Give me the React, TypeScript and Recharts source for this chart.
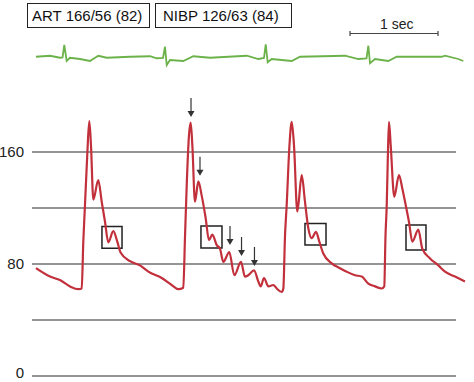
import { ComposedChart, Line, Scatter, XAxis, YAxis, ReferenceLine, ReferenceArea } from "recharts";

// arterial pressure trace: time (s) and mmHg
const artTime = [
  0.045, 0.205, 0.318, 0.432, 0.526, 0.565, 0.583, 0.602, 0.628, 0.651, 0.67, 0.697, 0.753, 0.792, 0.83, 0.867,
  0.924, 0.969, 1.008, 1.114, 1.227, 1.322, 1.474, 1.587, 1.663, 1.719, 1.739, 1.758, 1.784, 1.803, 1.822, 1.852,
  1.89, 1.928, 1.974, 2.011, 2.049, 2.099, 2.136, 2.174, 2.242, 2.299, 2.375, 2.42, 2.458, 2.523, 2.572, 2.599,
  2.636, 2.686, 2.742, 2.781, 2.838, 2.856, 2.875, 2.894, 2.926, 2.951, 2.977, 3.015, 3.065, 3.102, 3.14, 3.178,
  3.227, 3.265, 3.31, 3.406, 3.5, 3.576, 3.67, 3.747, 3.822, 3.898, 3.974, 4.003, 4.017, 4.031, 4.045, 4.057,
  4.076, 4.117, 4.17, 4.208, 4.247, 4.284, 4.322, 4.39, 4.435, 4.523, 4.617, 4.693, 4.807, 4.92,
];
const artPressure = [
  77, 71, 68.5, 64, 62, 62.5, 96, 122, 158, 182, 165, 126, 140, 124.5, 110, 95.5,
  103.5, 96, 88, 82, 79, 74.5, 70, 65, 62, 63, 100, 136, 172, 181, 165, 124.5,
  139, 129, 112.5, 97, 101, 93.5, 91, 81.5, 88.5, 72, 81.5, 71, 72, 75.5, 67.5, 64,
  70, 64, 65, 62.5, 60, 62.5, 100, 122, 165, 181.5, 165, 117.5, 143.5, 124.5, 105.5, 98.5,
  103, 96, 87.5, 80.5, 77, 74.5, 72, 71, 66, 64, 62.5, 64, 100, 122, 160, 181.5,
  165, 128, 143.5, 134, 122, 110, 96, 104.5, 91, 84, 79, 74.5, 71, 67.5,
];

// ECG trace: time (s) and mV
const ecgTime = [
  0.045, 0.205, 0.318, 0.347, 0.367, 0.394, 0.432, 0.545, 0.659, 0.753, 0.849, 1.114, 1.341, 1.417, 1.489, 1.511,
  1.531, 1.568, 1.719, 1.833, 2.023, 2.44, 2.572, 2.636, 2.656, 2.678, 2.724, 2.951, 3.045, 3.557, 3.708, 3.801,
  3.822, 3.841, 3.898, 4.049, 4.144, 4.656, 4.693, 4.844, 4.901,
];
const ecgVolts = [
  0.06, 0.14, -0.02, 0, 1.0, -0.28, -0.02, -0.12, -0.28, 0.14, -0.02, 0.06, 0.1, -0.06, -0.04, 0.86,
  -0.6, -0.2, -0.28, 0.1, -0.02, 0.14, -0.12, -0.04, 1.06, -0.38, -0.12, -0.28, 0.06, 0.14, -0.12, -0.08,
  0.94, -0.46, -0.12, -0.28, 0.06, 0.06, 0.14, -0.12, -0.28,
];

const gridLevels = [0, 40, 80, 120, 160];
const tickLabels = [0, 80, 160];

// boxed dicrotic notches: [t1, t2, low, high]
const boxT1 = [0.795, 1.92, 3.102, 4.25];
const boxT2 = [1.023, 2.159, 3.341, 4.477];
const boxLow = [91.2, 91.4, 93.6, 90];
const boxHigh = [106.8, 107.1, 109, 107.9];

// arrow tips
const arrowTime = [1.807, 1.909, 2.25, 2.381, 2.528];
const arrowPressure = [185, 143, 93.6, 85.7, 78.6];

const artData = artTime.map((t, i) => ({ t, v: artPressure[i] }));
const ecgData = ecgTime.map((t, i) => ({ t, v: ecgVolts[i] }));
const arrowData = arrowTime.map((t, i) => ({ t, v: arrowPressure[i] }));

const font = '"Liberation Sans", Arial, sans-serif';

const Arrow = (props: any) => {
  const { cx, cy } = props;
  return (
    <g>
      <line x1={cx} y1={cy - 19} x2={cx} y2={cy - 5} stroke="#333" strokeWidth={1.2} />
      <polygon points={`${cx - 3.5},${cy - 6} ${cx + 3.5},${cy - 6} ${cx},${cy}`} fill="#333" />
    </g>
  );
};

// the bottom label sits at the edge, nudge it up so it stays readable
const YTick = (props: any) => {
  const { x, y, payload } = props;
  const lift = payload.value === 0 ? -3 : 0;
  return (
    <text x={x} y={y + lift} dy="0.355em" textAnchor="end" fontSize={15} fill="#222" fontFamily={font}>
      {payload.value}
    </text>
  );
};

export default function App() {
  return (
    <div style={{ position: "absolute", left: 0, top: 0, width: 474, height: 382, background: "#fff", fontFamily: font, overflow: "hidden" }}>
      <div style={{ position: "absolute", left: 27, top: 3, width: 117, height: 23, border: "1.5px solid #222", paddingLeft: 4, fontSize: 15, lineHeight: "23px", color: "#111", whiteSpace: "nowrap" }}>
        ART 166/56 (82)
      </div>
      <div style={{ position: "absolute", left: 155, top: 3, width: 128, height: 23, border: "1.5px solid #222", paddingLeft: 7, fontSize: 15, lineHeight: "23px", color: "#111", whiteSpace: "nowrap" }}>
        NIBP 126/63 (84)
      </div>
      <div style={{ position: "absolute", left: 380, top: 15, fontSize: 14, color: "#222", lineHeight: "18px" }}>1 sec</div>
      <ComposedChart width={474} height={382} margin={{ top: 12, right: 2, bottom: 6, left: 0 }} style={{ overflow: "visible" }}>
        <XAxis type="number" dataKey="t" domain={[0, 5]} hide allowDataOverflow />
        <YAxis
          yAxisId="art"
          type="number"
          domain={[0, 260]}
          ticks={tickLabels}
          interval={0}
          width={32}
          axisLine={false}
          tickLine={false}
          tick={YTick}
        />
        <YAxis yAxisId="ecg" type="number" domain={[-25.48, 3.64]} hide />
        {gridLevels.map((g) => (
          <ReferenceLine
            key={g}
            yAxisId="art"
            segment={[{ x: 0, y: g }, { x: 4.818, y: g }]}
            stroke="#707070"
            strokeWidth={1.6}
          />
        ))}
        <ReferenceLine yAxisId="ecg" segment={[{ x: 3.614, y: 1.92 }, { x: 4.614, y: 1.92 }]} stroke="#444" strokeWidth={1.2} />
        <ReferenceLine yAxisId="ecg" segment={[{ x: 3.614, y: 2.12 }, { x: 3.614, y: 1.72 }]} stroke="#444" strokeWidth={1.2} />
        <ReferenceLine yAxisId="ecg" segment={[{ x: 4.614, y: 2.12 }, { x: 4.614, y: 1.72 }]} stroke="#444" strokeWidth={1.2} />
        <Line
          yAxisId="ecg"
          data={ecgData}
          dataKey="v"
          type="linear"
          stroke="#6cb24a"
          strokeWidth={1.8}
          dot={false}
          isAnimationActive={false}
        />
        <Line
          yAxisId="art"
          data={artData}
          dataKey="v"
          type="monotone"
          stroke="#c1303b"
          strokeWidth={2.2}
          dot={false}
          isAnimationActive={false}
        />
        {boxT1.map((x1, i) => (
          <ReferenceArea
            key={i}
            yAxisId="art"
            x1={x1}
            x2={boxT2[i]}
            y1={boxLow[i]}
            y2={boxHigh[i]}
            fill="none"
            fillOpacity={0}
            stroke="#222"
            strokeWidth={1.5}
          />
        ))}
        <Scatter yAxisId="art" data={arrowData} dataKey="v" shape={Arrow} isAnimationActive={false} />
      </ComposedChart>
    </div>
  );
}
